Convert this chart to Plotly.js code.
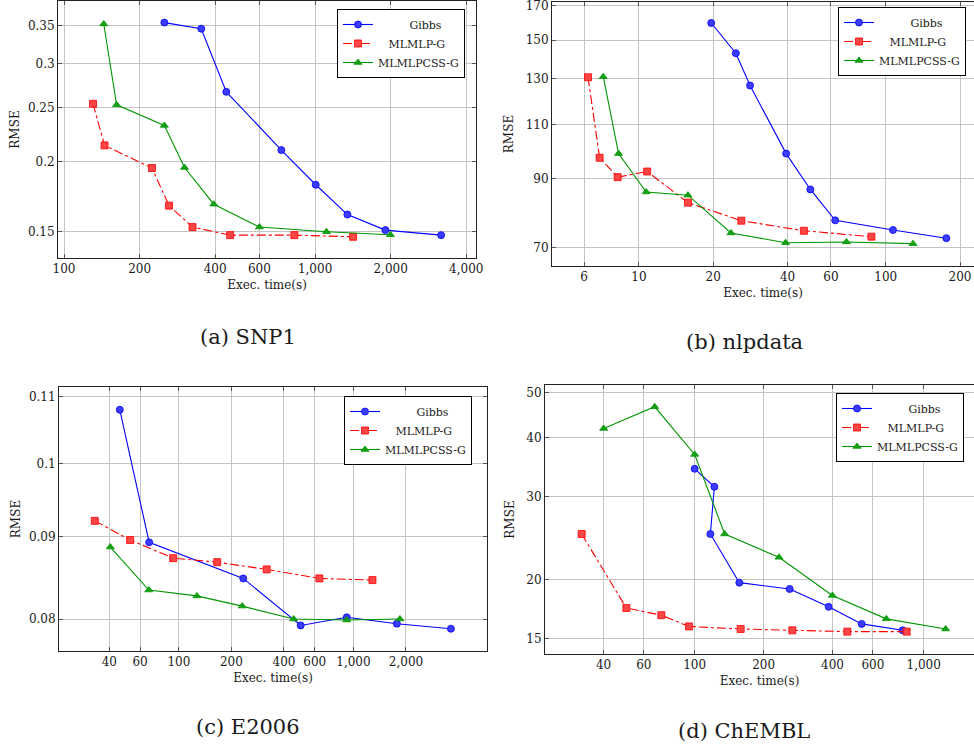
<!DOCTYPE html>
<html>
<head>
<meta charset="utf-8">
<script src="https://cdn.plot.ly/plotly-3.0.1.min.js"></script>
<style>
  html, body { margin: 0; padding: 0; background: #ffffff; }
  #chart { width: 974px; height: 748px; }
</style>
</head>
<body>
<div id="chart"></div>
<script>
// ---------------- data ----------------
const seriesNames = ['Gibbs', 'MLMLP-G', 'MLMLPCSS-G'];
const captions = ['(a) SNP1', '(b) nlpdata', '(c) E2006', '(d) ChEMBL'];
const xTitle = 'Exec. time(s)';
const yTitle = 'RMSE';

// (a) SNP1
const snpGibbsX = [251, 352, 443, 734, 1006, 1345, 1906, 3177];
const snpGibbsY = [0.3548, 0.346, 0.2668, 0.2099, 0.182, 0.161, 0.151, 0.1479];
const snpMlpX = [130.5, 145, 224, 262, 325, 459, 827, 1417];
const snpMlpY = [0.254, 0.214, 0.195, 0.167, 0.1529, 0.1479, 0.1479, 0.1469];
const snpCssX = [144, 162, 251, 302, 395, 600, 1110, 1995];
const snpCssY = [0.3528, 0.2529, 0.2323, 0.1954, 0.168, 0.1529, 0.1500, 0.1481];

// (b) nlpdata
const nlpGibbsX = [19.63, 24.7, 28.2, 39.5, 49.5, 62.4, 107, 176];
const nlpGibbsY = [159.7, 142.9, 126.9, 98.8, 86.6, 77.3, 74.6, 72.4];
const nlpMlpX = [6.22, 6.93, 8.2, 10.8, 15.8, 26.0, 46.6, 87.5];
const nlpMlpY = [130.8, 97.3, 90.6, 92.5, 82.5, 77.2, 74.4, 72.8];
const nlpCssX = [7.17, 8.27, 10.7, 15.8, 23.6, 39.3, 69.3, 129];
const nlpCssY = [131.1, 98.8, 85.8, 84.8, 73.8, 71.2, 71.4, 70.96];

// (c) E2006
const e06GibbsX = [45.9, 67.6, 233.9, 498.8, 915.6, 1773, 3616];
const e06GibbsY = [0.1080, 0.0893, 0.0848, 0.07927, 0.0802, 0.07947, 0.0789];
const e06MlpX = [33.0, 52.6, 92.8, 165.9, 318.4, 638.3, 1285];
const e06MlpY = [0.0921, 0.0896, 0.0873, 0.0868, 0.0859, 0.0848, 0.0846];
const e06CssX = [40.5, 67.3, 126.9, 230.8, 454.7, 915.6, 1845];
const e06CssY = [0.0887, 0.0834, 0.0827, 0.0815, 0.0800, 0.07989, 0.0800];

// (d) ChEMBL
const chGibbsX = [100, 121.9, 117.1, 156.7, 259.9, 384.6, 536.2, 809.6];
const chGibbsY = [34.4, 31.5, 25.0, 19.7, 19.1, 17.5, 16.1, 15.6];
const chMlpX = [32.1, 50.3, 71.5, 94.5, 158.8, 267, 464, 843];
const chMlpY = [25.0, 17.4, 16.8, 15.9, 15.7, 15.6, 15.5, 15.5];
const chCssX = [40.05, 66.9, 100, 135.2, 233.5, 399.3, 687, 1247];
const chCssY = [41.9, 46.6, 36.9, 25.0, 22.3, 18.5, 16.5, 15.7];

// tick values / labels
const aXTicks = [100, 200, 400, 600, 1000, 2000, 4000];
const aXLabels = ['100', '200', '400', '600', '1,000', '2,000', '4,000'];
const aYTicks = [0.15, 0.2, 0.25, 0.3, 0.35];
const aYLabels = ['0.15', '0.2', '0.25', '0.3', '0.35'];
const bXTicks = [6, 10, 20, 40, 60, 100, 200];
const bXLabels = ['6', '10', '20', '40', '60', '100', '200'];
const bYTicks = [70, 90, 110, 130, 150, 170];
const bYLabels = ['70', '90', '110', '130', '150', '170'];
const cXTicks = [40, 60, 100, 200, 400, 600, 1000, 2000];
const cXLabels = ['40', '60', '100', '200', '400', '600', '1,000', '2,000'];
const cYTicks = [0.08, 0.09, 0.1, 0.11];
const cYLabels = ['0.08', '0.09', '0.1', '0.11'];
const dXTicks = [40, 60, 100, 200, 400, 600, 1000];
const dXLabels = ['40', '60', '100', '200', '400', '600', '1,000'];
const dYTicks = [15, 20, 30, 40, 50];
const dYLabels = ['15', '20', '30', '40', '50'];

// ---------------- styling ----------------
const W = 974, H = 748;
const FONT = 'DejaVu Serif';
const TXT = '#1a1a1a';
const BLUE = 'rgb(0,0,255)', RED = 'rgb(255,0,0)', GREEN = 'rgb(0,150,0)';
const NB = '\u00a0';
const legendNames = [NB.repeat(9) + seriesNames[0], NB.repeat(3) + seriesNames[1], seriesNames[2]];

function mkTraces(xs, ys, axSuffix, legendId) {
  const styles = [
    {color: BLUE, fill: 'rgb(60,60,255)', dash: 'solid', symbol: 'circle', size: 7},
    {color: RED, fill: 'rgb(255,70,70)', dash: 'dashdot', symbol: 'square', size: 7},
    {color: GREEN, fill: 'rgb(20,160,20)', dash: 'solid', symbol: 'triangle-up', size: 7}
  ];
  return xs.map((x, i) => ({
    type: 'scatter', mode: 'lines+markers',
    x: x, y: ys[i], name: legendNames[i],
    xaxis: 'x' + axSuffix, yaxis: 'y' + axSuffix,
    legend: legendId,
    line: {color: styles[i].color, width: 1.1, dash: styles[i].dash},
    marker: {symbol: styles[i].symbol, size: styles[i].size, color: styles[i].fill,
             line: {color: styles[i].color, width: 0.8}}
  }));
}

const data = [].concat(
  mkTraces([snpGibbsX, snpMlpX, snpCssX], [snpGibbsY, snpMlpY, snpCssY], '', 'legend'),
  mkTraces([nlpGibbsX, nlpMlpX, nlpCssX], [nlpGibbsY, nlpMlpY, nlpCssY], '2', 'legend2'),
  mkTraces([e06GibbsX, e06MlpX, e06CssX], [e06GibbsY, e06MlpY, e06CssY], '3', 'legend3'),
  mkTraces([chGibbsX, chMlpX, chCssX], [chGibbsY, chMlpY, chCssY], '4', 'legend4')
);

function xax(domPx, range, tv, tt, anchor, mirror) {
  return {
    type: 'log', domain: [domPx[0] / W, domPx[1] / W], range: range, anchor: anchor,
    tickvals: tv, ticktext: tt, tickfont: {family: FONT, size: 12, color: TXT},
    ticklabeloverflow: 'allow',
    showgrid: true, gridcolor: '#c4c4c4', gridwidth: 1,
    showline: true, linecolor: '#222', linewidth: 1, mirror: mirror,
    ticks: 'inside', ticklen: 4, tickcolor: '#555', tickwidth: 1,
    title: {text: xTitle, font: {family: FONT, size: 12, color: TXT}, standoff: 5},
    automargin: false, zeroline: false
  };
}
function yax(domTopBot, range, tv, tt, anchor, mirror, standoff) {
  return {
    type: 'log', domain: [1 - domTopBot[1] / H, 1 - domTopBot[0] / H], range: range, anchor: anchor,
    tickvals: tv, ticktext: tt, tickfont: {family: FONT, size: 12, color: TXT},
    ticklabeloverflow: 'allow',
    showgrid: true, gridcolor: '#c4c4c4', gridwidth: 1,
    showline: true, linecolor: '#222', linewidth: 1, mirror: mirror,
    ticks: 'inside', ticklen: 4, tickcolor: '#555', tickwidth: 1,
    title: {text: yTitle, font: {family: FONT, size: 12, color: TXT}, standoff: standoff},
    automargin: false, zeroline: false
  };
}

function leg(xPx, yPx) {
  return {
    x: xPx / W, y: 1 - yPx / H, xanchor: 'left', yanchor: 'top',
    bgcolor: '#ffffff', bordercolor: '#000', borderwidth: 1,
    font: {family: FONT, size: 11, color: TXT}, itemwidth: 30, tracegroupgap: 0
  };
}

const capFont = {family: FONT, size: 21, color: TXT};
const layout = {
  width: W, height: H, margin: {l: 0, r: 0, t: 0, b: 0},
  paper_bgcolor: '#ffffff', plot_bgcolor: '#ffffff', showlegend: true,
  xaxis: xax([58, 476], [1.976, 3.641], aXTicks, aXLabels, 'y', 'ticks'),
  yaxis: yax([1, 258], [-0.8709, -0.4114], aYTicks, aYLabels, 'x', 'ticks', 5),
  xaxis2: xax([552, 974], [0.6478, 2.3576], bXTicks, bXLabels, 'y2', 'ticks'),
  yaxis2: yax([2, 266], [1.8153, 2.2368], bYTicks, bYLabels, 'x2', false, 9),
  xaxis3: xax([59, 487], [1.3136, 3.765], cXTicks, cXLabels, 'y3', 'ticks'),
  yaxis3: yax([387, 651], [-1.1168, -0.9524], cYTicks, cYLabels, 'x3', 'ticks', 5),
  xaxis4: xax([545, 974], [1.3464, 3.2198], dXTicks, dXLabels, 'y4', 'ticks'),
  yaxis4: yax([385, 654], [1.1428, 1.7147], dYTicks, dYLabels, 'x4', false, 9),
  legend: leg(337, 9),
  legend2: leg(838, 7),
  legend3: leg(344, 396),
  legend4: leg(836, 393),
  annotations: [
    {text: captions[0], x: 248 / W, y: 1 - 337 / H},
    {text: captions[1], x: 744 / W, y: 1 - 342 / H},
    {text: captions[2], x: 248 / W, y: 1 - 727 / H},
    {text: captions[3], x: 744 / W, y: 1 - 731 / H}
  ].map(a => Object.assign(a, {xref: 'paper', yref: 'paper', xanchor: 'center', yanchor: 'middle',
                                showarrow: false, font: capFont}))
};

Plotly.newPlot('chart', data, layout, {displayModeBar: false, staticPlot: true});
</script>
</body>
</html>
